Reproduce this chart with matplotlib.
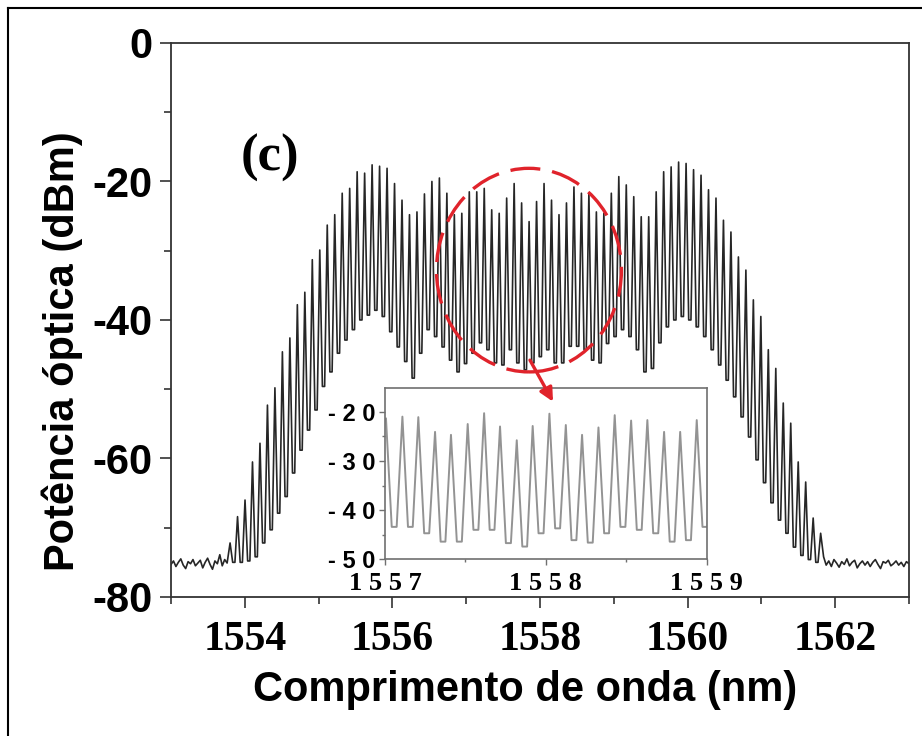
import matplotlib.pyplot as plt
from matplotlib.patches import Ellipse
from matplotlib.lines import Line2D
from matplotlib.ticker import MultipleLocator, FuncFormatter
import numpy as np

plt.rcParams['axes.unicode_minus'] = False

# Pente principal: altura de cada linha (dBm), da primeira (1553.8 nm) à última
picos_dbm = [
    -72.2, -68.4, -66.0, -60.5, -57.8, -52.3, -49.8, -44.6, -42.6, -37.8,
    -36.0, -31.3, -29.9, -26.3, -24.8, -21.7, -21.0, -18.6, -18.8, -17.6,
    -17.8, -18.1, -20.3, -22.7, -24.8, -24.4, -21.8, -20.0, -19.5, -21.7,
    -24.8, -24.6, -21.5, -21.5, -21.0, -24.1, -24.6, -22.4, -20.3, -23.1,
    -25.8, -22.9, -20.3, -22.7, -24.8, -23.1, -20.8, -21.7, -21.7, -24.4,
    -24.6, -21.7, -19.3, -20.5, -22.2, -25.1, -25.1, -21.5, -18.6, -17.9,
    -17.2, -17.4, -18.3, -19.1, -21.2, -22.4, -25.6, -27.3, -30.9, -32.8,
    -37.1, -39.5, -44.3, -47.0, -52.0, -54.9, -60.5, -63.4, -68.6, -70.8,
]
# Vales entre linhas consecutivas (dBm)
vales_dbm = [
    -75.0, -75.0, -74.8, -74.2, -72.2, -70.3, -67.9, -65.5, -62.1, -58.8,
    -55.9, -53.0, -49.6, -47.5, -44.8, -42.9, -41.4, -40.0, -39.3, -38.6,
    -39.5, -41.7, -43.9, -46.0, -48.4, -44.8, -41.4, -42.4, -43.9, -45.8,
    -47.5, -46.3, -44.8, -43.3, -44.3, -46.2, -46.5, -44.3, -46.2, -47.2,
    -46.2, -45.3, -44.3, -46.2, -46.2, -43.8, -43.8, -44.3, -45.8, -46.2,
    -43.4, -42.4, -41.4, -42.4, -44.3, -47.5, -47.0, -43.3, -41.0, -40.0,
    -39.5, -40.0, -41.0, -42.4, -44.3, -46.5, -48.7, -51.1, -54.0, -56.9,
    -60.2, -63.5, -66.4, -68.9, -70.8, -72.8, -74.0, -74.6, -75.0,
]
lambda_inicial = 1553.8
espacamento = 0.1013

# Piso de ruído do OSA fora da banda do pente
ruido_esq_dbm = [
    -75.3, -74.8, -75.6, -75.0, -74.5, -75.4, -75.9, -74.9, -75.2, -74.6,
    -75.5, -75.1, -74.7, -75.8, -75.0, -74.4, -75.3, -76.0, -74.8, -75.2,
    -73.9, -75.5, -74.6, -75.1,
]
ruido_dir_dbm = [
    -74.2, -75.4, -74.8, -75.6, -74.6, -75.1, -75.7, -74.9, -75.3, -74.5,
    -75.5, -75.0, -74.7, -75.8, -75.2, -74.8, -75.4, -74.9, -75.6, -75.0,
    -74.6, -75.3, -75.9, -74.9, -75.1, -74.7, -75.5, -75.2, -74.8, -75.4,
    -75.0, -75.6, -74.9, -75.2,
]

# Detalhe 1557-1559 nm
picos_ins_nm = [
    1557.006, 1557.108, 1557.207, 1557.311, 1557.410, 1557.514, 1557.616,
    1557.715, 1557.819, 1557.918, 1558.022, 1558.124, 1558.225, 1558.327,
    1558.428, 1558.530, 1558.631, 1558.735, 1558.835, 1558.938, 1559.040,
]
picos_ins_dbm = [
    -21.4, -21.0, -21.1, -24.1, -24.7, -22.5, -20.3, -23.0, -25.8, -22.9,
    -20.4, -22.7, -24.7, -23.2, -20.7, -21.8, -21.7, -24.1, -24.1, -21.7,
    -21.0,
]
vales_ins_dbm = [
    -43.4, -43.4, -44.7, -46.4, -46.4, -44.0, -44.0, -46.7, -47.4, -44.7,
    -43.7, -46.1, -46.6, -44.7, -43.4, -44.0, -44.7, -46.4, -46.1, -43.4,
]

vermelho = '#e0232b'
sans = 'Liberation Sans'
serif = 'Liberation Serif'


def traco_pente(lam, picos, vales):
    # linha estreita no pico e fundo plano entre linhas vizinhas
    xs, ys = [], []
    for i, p in enumerate(picos):
        xs.append(lam[i])
        ys.append(p)
        if i < len(vales):
            d = lam[i + 1] - lam[i]
            xs += [lam[i] + 0.35 * d, lam[i] + 0.65 * d]
            ys += [vales[i], vales[i]]
    return xs, ys


lam = [lambda_inicial + espacamento * k for k in range(len(picos_dbm))]
x_pente, y_pente = traco_pente(lam, picos_dbm, vales_dbm)
x_esq = np.linspace(1553.0, lam[0] - 0.04, len(ruido_esq_dbm))
x_dir = np.linspace(lam[-1] + 0.04, 1563.0, len(ruido_dir_dbm))
x = np.concatenate([x_esq, x_pente, x_dir])
y = np.concatenate([ruido_esq_dbm, y_pente, ruido_dir_dbm])

fig = plt.figure(figsize=(9.22, 7.36), dpi=100)
ax = fig.add_axes([0.1855, 0.1889, 0.8004, 0.7527])

ax.plot(x, y, color='#262626', lw=1.2)
ax.set_xlim(1553, 1563)
ax.set_ylim(-80, 0)
ax.xaxis.set_major_locator(MultipleLocator(2))
ax.xaxis.set_minor_locator(MultipleLocator(1))
ax.yaxis.set_major_locator(MultipleLocator(20))
ax.yaxis.set_minor_locator(MultipleLocator(10))
ax.tick_params(which='major', length=8, width=1.2, color='#333333')
ax.tick_params(which='minor', length=5, width=1.2, color='#333333')
ax.tick_params(axis='x', pad=9)
ax.tick_params(axis='y', pad=5)
for s in ax.spines.values():
    s.set_linewidth(1.3)
    s.set_color('#333333')
for t in ax.get_xticklabels():
    t.set_fontfamily(serif)
    t.set_fontweight('bold')
    t.set_fontsize(30)
for t in ax.get_yticklabels():
    t.set_fontfamily(sans)
    t.set_fontweight('bold')
    t.set_fontsize(30)

ax.text(1554.34, -16.6, '(c)', family=serif, weight='bold', fontsize=38,
        ha='center', va='center')

# destaque da região ampliada
ax.add_patch(Ellipse((1557.85, -32.8), 2.507, 29.4, fill=False, ec=vermelho,
                     lw=2.4, ls=(0, (9, 3.6)), zorder=5))

fig.text(62 / 922, 1 - 351 / 736, 'Potência óptica (dBm)', rotation=90,
         family=sans, weight='bold', fontsize=30, ha='center', va='center')
fig.text(525 / 922, 1 - 690 / 736, 'Comprimento de onda (nm)',
         family=sans, weight='bold', fontsize=30, ha='center', va='center')

# inserto
ax_in = fig.add_axes([0.4176, 0.240, 0.3489, 0.2327])
xi, yi = traco_pente(picos_ins_nm, picos_ins_dbm, vales_ins_dbm)
ax_in.plot(xi, yi, color='#939393', lw=1.4)
ax_in.set_xlim(1557, 1559)
ax_in.set_ylim(-50, -15.2)
ax_in.xaxis.set_major_locator(MultipleLocator(1))
ax_in.xaxis.set_minor_locator(MultipleLocator(0.5))
ax_in.yaxis.set_major_locator(MultipleLocator(10))
ax_in.yaxis.set_minor_locator(MultipleLocator(5))
espacado = FuncFormatter(lambda v, pos: ' '.join(f'{v:.0f}'))
ax_in.xaxis.set_major_formatter(espacado)
ax_in.yaxis.set_major_formatter(espacado)
ax_in.tick_params(which='major', length=4, width=1.0, color='#707070')
ax_in.tick_params(which='minor', length=2.5, width=1.0, color='#707070')
ax_in.tick_params(axis='x', pad=5)
ax_in.tick_params(axis='y', pad=3)
for s in ax_in.spines.values():
    s.set_linewidth(1.2)
    s.set_color('#707070')
for t in ax_in.get_xticklabels():
    t.set_fontfamily(serif)
    t.set_fontweight('bold')
    t.set_fontsize(19)
for t in ax_in.get_yticklabels():
    t.set_fontfamily(sans)
    t.set_fontweight('bold')
    t.set_fontsize(17)

ax_in.annotate('', xy=(1558.176, -51.8), xycoords=ax.transData,
               xytext=(1557.864, -45.8), textcoords=ax.transData,
               arrowprops=dict(arrowstyle='-|>', color=vermelho, lw=2.4,
                               mutation_scale=20, shrinkA=0, shrinkB=0),
               annotation_clip=False)

# moldura da figura
fig.add_artist(Line2D([8 / 922, 8 / 922], [0, 1 - 8 / 736], color='black', lw=1.5))
fig.add_artist(Line2D([8 / 922, 1], [1 - 8 / 736, 1 - 8 / 736], color='black', lw=1.5))

fig.savefig('out.png', dpi=100)
